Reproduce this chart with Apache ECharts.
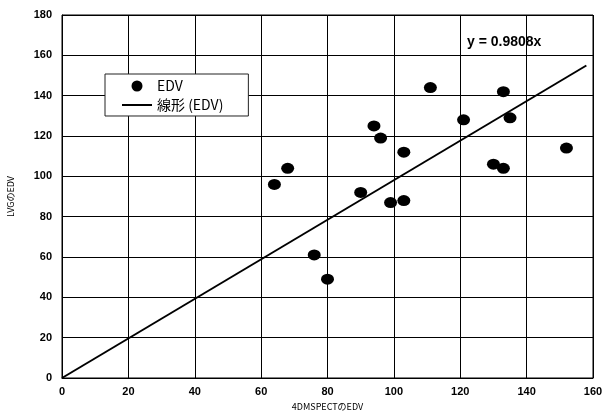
<!DOCTYPE html>
<html>
<head>
<meta charset="utf-8">
<script src="https://cdn.jsdelivr.net/npm/echarts@6/dist/echarts.min.js"></script>
<style>
  html, body { margin: 0; padding: 0; background: #fff; }
  #chart { width: 606px; height: 414px; }
</style>
</head>
<body>
<div id="chart"></div>
<script>
  // 4DMSPECT EDV (x) vs LVG EDV (y)
  var spectEdv = [64, 68, 76, 80, 90, 94, 96, 99, 103, 103, 111, 121, 130, 133, 133, 135, 152];
  var lvgEdv = [96, 104, 61, 49, 92, 125, 119, 87, 112, 88, 144, 128, 106, 104, 142, 129, 114];
  var slope = 0.9808;
  var trendX = [0, 158];
  var xTicks = [0, 20, 40, 60, 80, 100, 120, 140, 160];
  var yTicks = [0, 20, 40, 60, 80, 100, 120, 140, 160, 180];

  var font = '"Liberation Sans", Arial, sans-serif';
  var jpFont = '"Noto Sans CJK JP", "Liberation Sans", sans-serif';

  var points = spectEdv.map(function (x, i) {
    return [x, lvgEdv[i]];
  });
  var trend = trendX.map(function (x) {
    return [x, slope * x];
  });

  var myChart = echarts.init(document.getElementById('chart'), null, {renderer: 'canvas'});

  var option = {
    backgroundColor: '#fff',
    animation: false,
    grid: {
      left: 62,
      right: 13,
      top: 15,
      bottom: 36,
      outerBoundsMode: 'none',
      containLabel: false,
      show: true,
      borderColor: '#000',
      borderWidth: 1
    },
    legend: {
      left: 105,
      top: 74,
      orient: 'vertical',
      itemGap: 5,
      padding: [5, 25, 4, 17],
      borderColor: '#222',
      borderWidth: 1,
      backgroundColor: '#fff',
      itemWidth: 30,
      itemHeight: 11,
      textStyle: {fontSize: 14, fontFamily: jpFont, color: '#000'},
      data: [
        {name: 'EDV', icon: 'circle'},
        {name: '線形 (EDV)', icon: 'path://M0,0 L30,0 L30,2 L0,2 Z', itemStyle: {color: '#000'}}
      ]
    },
    xAxis: {
      type: 'value',
      min: 0,
      max: 160,
      interval: 20,
      name: '4DMSPECTのEDV',
      nameLocation: 'middle',
      nameGap: 23,
      nameTextStyle: {fontSize: 9, fontFamily: jpFont, color: '#000'},
      axisLine: {show: true, lineStyle: {color: '#000', width: 1}},
      axisTick: {show: false},
      axisLabel: {
        fontSize: 11, fontWeight: 'bold', fontFamily: font, color: '#000', margin: 8,
        formatter: function (v) { return xTicks.indexOf(v) >= 0 ? String(v) : ''; }
      },
      splitLine: {show: true, lineStyle: {color: '#000', width: 1}}
    },
    yAxis: {
      type: 'value',
      min: 0,
      max: 180,
      interval: 20,
      name: 'LVGのEDV',
      nameLocation: 'middle',
      nameGap: 47,
      nameTextStyle: {fontSize: 9, fontFamily: jpFont, color: '#000'},
      axisLine: {show: true, lineStyle: {color: '#000', width: 1}},
      axisTick: {show: false},
      axisLabel: {
        fontSize: 11, fontWeight: 'bold', fontFamily: font, color: '#000', margin: 10,
        formatter: function (v) { return yTicks.indexOf(v) >= 0 ? String(v) : ''; }
      },
      splitLine: {show: true, lineStyle: {color: '#000', width: 1}}
    },
    series: [
      {
        name: 'EDV',
        type: 'scatter',
        symbol: 'circle',
        symbolSize: [13, 11],
        itemStyle: {color: '#000', opacity: 1},
        data: points,
        z: 3
      },
      {
        name: '線形 (EDV)',
        type: 'line',
        symbol: 'none',
        lineStyle: {color: '#000', width: 2},
        itemStyle: {color: '#000'},
        data: trend,
        z: 2
      }
    ],
    graphic: [
      {
        type: 'text',
        left: 467,
        top: 35,
        style: {
          text: 'y = 0.9808x',
          fontSize: 14,
          fontWeight: 'bold',
          fontFamily: font,
          fill: '#000'
        }
      }
    ]
  };

  myChart.setOption(option);
</script>
</body>
</html>
